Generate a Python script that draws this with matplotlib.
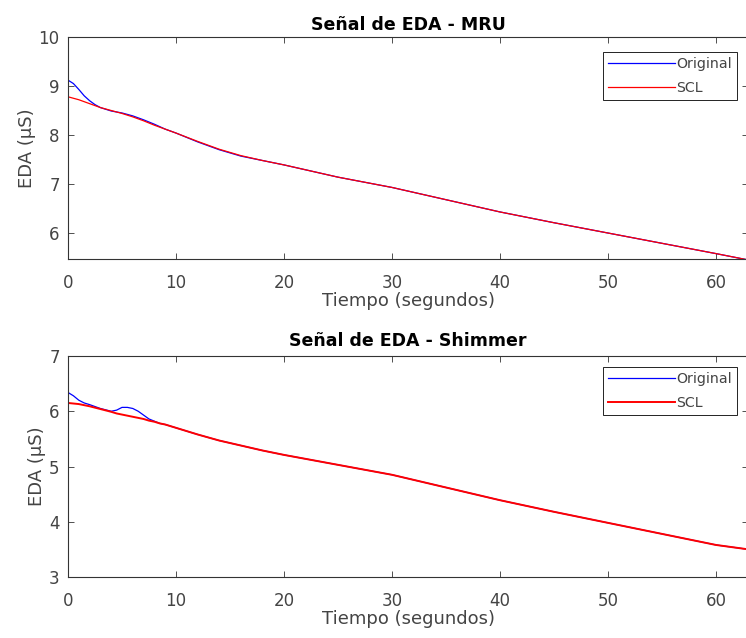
import matplotlib
matplotlib.use("Agg")
import matplotlib.pyplot as plt

plt.rcParams['font.family'] = ['DejaVu Sans']

# MRU data
t_mru = [0, 0.5, 1, 1.5, 2, 2.5, 3, 4, 5, 6, 7, 8, 9, 10, 12, 14, 16, 18, 20, 25, 30, 35, 40, 45, 50, 55, 60, 63]
orig_mru = [9.12, 9.05, 8.93, 8.80, 8.70, 8.62, 8.56, 8.49, 8.45, 8.39, 8.31, 8.22, 8.12, 8.04, 7.86, 7.70, 7.57, 7.48, 7.39, 7.14, 6.93, 6.68, 6.43, 6.21, 6.00, 5.79, 5.58, 5.45]
scl_mru = [8.78, 8.75, 8.72, 8.68, 8.64, 8.60, 8.56, 8.50, 8.44, 8.37, 8.29, 8.20, 8.12, 8.04, 7.87, 7.71, 7.58, 7.48, 7.39, 7.14, 6.93, 6.68, 6.43, 6.21, 6.00, 5.79, 5.58, 5.45]

# Shimmer data
t_sh = [0, 0.5, 1, 1.5, 2, 3, 4, 4.5, 5, 5.5, 6, 6.5, 7, 7.5, 8, 8.5, 9, 10, 12, 14, 16, 18, 20, 25, 30, 35, 40, 45, 50, 55, 60, 63]
orig_sh = [6.34, 6.28, 6.20, 6.15, 6.12, 6.05, 6.00, 6.02, 6.07, 6.07, 6.05, 6.00, 5.93, 5.86, 5.82, 5.78, 5.76, 5.70, 5.58, 5.47, 5.38, 5.29, 5.21, 5.03, 4.85, 4.62, 4.39, 4.18, 3.98, 3.78, 3.58, 3.50]
scl_sh = [6.15, 6.14, 6.13, 6.11, 6.09, 6.04, 5.99, 5.96, 5.94, 5.92, 5.90, 5.88, 5.86, 5.83, 5.81, 5.78, 5.76, 5.70, 5.58, 5.47, 5.38, 5.29, 5.21, 5.03, 4.85, 4.62, 4.39, 4.18, 3.98, 3.78, 3.58, 3.50]

titles = ["Señal de EDA - MRU", "Señal de EDA - Shimmer"]
xticks = [0, 10, 20, 30, 40, 50, 60]
yticks_mru = [6, 7, 8, 9, 10]
yticks_sh = [3, 4, 5, 6, 7]

W, H = 746, 638
fig = plt.figure(figsize=(W/100, H/100), dpi=100)

def add_ax(left, top, right, bottom):
    return fig.add_axes([left/W, 1 - bottom/H, (right-left)/W, (bottom-top)/H])

ax1 = add_ax(68, 37, 748.4, 259)
ax2 = add_ax(68, 356, 748.4, 577)

gray = '#444444'
configs = [
    (ax1, t_mru, orig_mru, scl_mru, titles[0], yticks_mru, (5.47, 10), (0.983, 0.932), 0.9, 5),
    (ax2, t_sh, orig_sh, scl_sh, titles[1], yticks_sh, (3, 7), (0.983, 0.95), 1.4, 7),
]
for ax, t, o, s, title, yt, yl, lpos, sclw, tpad in configs:
    ax.plot(t, o, color='#0000ff', lw=0.9, label='Original')
    ax.plot(t, s, color='#ff0000', lw=sclw, label='SCL')
    ax.set_xlim(0, 63)
    ax.set_ylim(*yl)
    ax.set_xticks(xticks)
    ax.set_yticks(yt)
    ax.tick_params(direction='in', top=True, right=True, length=4, width=0.6,
                   labelsize=12, colors='#333333', labelcolor=gray)
    ax.tick_params(axis='x', pad=11)
    ax.tick_params(axis='y', pad=6)
    for sp in ax.spines.values():
        sp.set_linewidth(0.8)
        sp.set_color('#333333')
    ax.set_title(title, fontsize=12.5, fontweight='bold', pad=tpad, color='black')
    ax.set_xlabel("Tiempo (segundos)", fontsize=13, color=gray, labelpad=0)
    ax.set_ylabel("EDA (µS)", fontsize=13, color=gray, labelpad=2)
    leg = ax.legend(loc='upper right', bbox_to_anchor=lpos, fontsize=10.2,
                    handlelength=4.7, handletextpad=0.1, borderpad=0.35,
                    labelspacing=0.7, fancybox=False, framealpha=1,
                    edgecolor='black', borderaxespad=0)
    leg.get_frame().set_linewidth(0.6)
    for txt in leg.get_texts():
        txt.set_color(gray)

fig.savefig("out.png", dpi=100)
